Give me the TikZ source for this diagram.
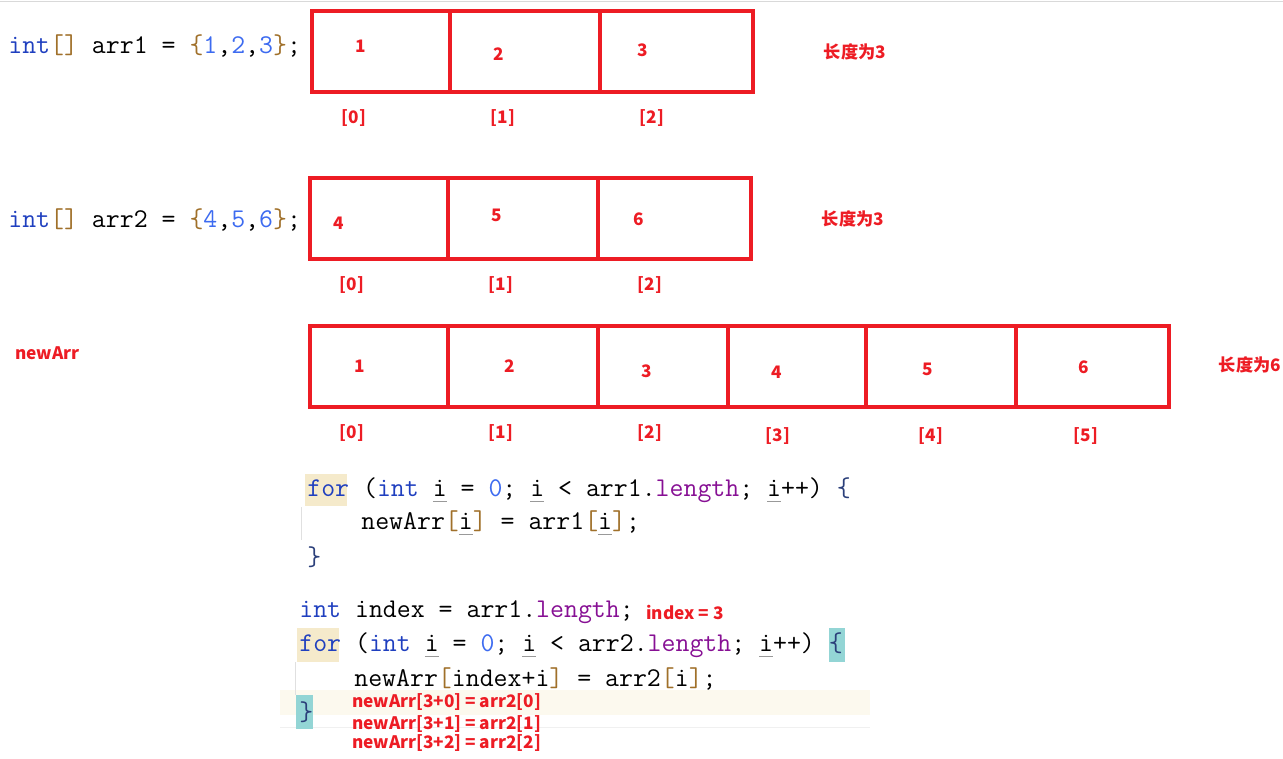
\documentclass[tikz,border=0pt]{standalone}
\usepackage{fontspec}
\newfontfamily\cjk{Noto Sans CJK SC}
\definecolor{lblred}{HTML}{ED1C24}
\definecolor{kwblue}{HTML}{1F3FBF}
\definecolor{numblue}{HTML}{3D6BF0}
\definecolor{fldpurple}{HTML}{871094}
\definecolor{brkbrown}{HTML}{A0702A}
\definecolor{bracenavy}{HTML}{2B3F7A}
\definecolor{forbg}{HTML}{F5EACB}
\definecolor{tealbg}{HTML}{93D5D5}
\definecolor{linebg}{HTML}{FCF9EE}
\newcommand\kw[1]{\textcolor{kwblue}{#1}}
\newcommand\numtxt[1]{\textcolor{numblue}{#1}}
\newcommand\fld[1]{\textcolor{fldpurple}{#1}}
\newcommand\brk[1]{\textcolor{brkbrown}{#1}}
\newcommand\brc[1]{\textcolor{bracenavy}{#1}}
\newcommand\uv[1]{\setbox0\hbox{#1}\rlap{\textcolor{black!40}{\rule[-3pt]{\wd0}{0.6pt}}}\box0{}}

\begin{document}
\begin{tikzpicture}[x=0.02cm, y=-0.02cm,
		lbl/.style={text=lblred, font=\cjk\bfseries\fontsize{9.8}{11}\selectfont, inner sep=0pt},
		code/.style={font=\ttfamily\fontsize{15.4}{17}\selectfont, anchor=west, inner sep=0pt},
		cell/.style={draw=lblred, line width=2pt}]
				\useasboundingbox (0,0) rectangle (1283,759);
				\draw[black!15] (0,1) -- (1283,1);
				% arr1
				\node[code] (decl1) at (8,46) {\kw{int}\brk{[]} arr1 = \brk{\{}\numtxt{1},\numtxt{2},\numtxt{3}\brk{\}};};
				\draw[cell] (312,11) rectangle (753,92);
				\foreach \x in {450,600}
					\draw[cell] (\x,11) -- (\x,92);
				\foreach \v/\x/\y [count=\k from 0] in {1/361/46, 2/499/54, 3/643/50}
					\node[lbl] (av\k) at (\x,\y) {\v};
				\foreach \x [count=\k from 0] in {354,503,652}
					\node[lbl] (ai\k) at (\x,118) {[\k]};
				\node[lbl] (alen) at (855,52) {长度为3};
				% arr2
				\node[code] (decl2) at (8,220) {\kw{int}\brk{[]} arr2 = \brk{\{}\numtxt{4},\numtxt{5},\numtxt{6}\brk{\}};};
				\draw[cell] (310,178) rectangle (751,259);
				\foreach \x in {448,598}
					\draw[cell] (\x,178) -- (\x,259);
				\foreach \v/\x/\y [count=\k from 0] in {4/339/223, 5/497/215, 6/639/219}
					\node[lbl] (bv\k) at (\x,\y) {\v};
				\foreach \x [count=\k from 0] in {352,501,650}
					\node[lbl] (bi\k) at (\x,285) {[\k]};
				\node[lbl] (blen) at (853,219) {长度为3};
				% newArr
				\node[lbl, anchor=west] (nname) at (15,353) {newArr};
				\draw[cell] (310,326) rectangle (1169,407);
				\foreach \x in {448,598,728,866,1016}
					\draw[cell] (\x,326) -- (\x,407);
				\foreach \v/\x/\y [count=\k from 0] in {1/360/366, 2/510/366, 3/647/371, 4/777/372, 5/928/369, 6/1084/367}
					\node[lbl] (nv\k) at (\x,\y) {\v};
				\foreach \x/\y [count=\k from 0] in {352/433, 501/433, 650/433, 778/436, 931/436, 1086/436}
					\node[lbl] (ni\k) at (\x,\y) {[\k]};
				\node[lbl] (nlen) at (1250,365) {长度为6};
				% first loop
				\fill[forbg] (305,474) rectangle (347,506);
				\draw[black!12] (301,507) -- (301,540);
				\node[code] (l1) at (307,490) {\kw{for} (\kw{int} \uv{i} = \numtxt{0}; \uv{i} < arr1.\fld{length}; \uv{i}++) \brc{\{}};
				\node[code] (l2) at (361,523) {newArr\brk{[}\uv{i}\brk{]} = arr1\brk{[}\uv{i}\brk{]};};
				\node[code] (l3) at (307,557) {\brc{\}}};
				% second loop
				\fill[linebg] (280,690) rectangle (870,715);
				\draw[black!6] (280,727) -- (870,727);
				\fill[forbg] (297,628) rectangle (339,662);
				\fill[tealbg] (829,628) rectangle (845,662);
				\fill[tealbg] (296,695) rectangle (313,729);
				\draw[black!12] (295,662) -- (295,695);
				\node[code] (m1) at (299,612) {\kw{int} index = arr1.\fld{length};};
				\node[lbl, anchor=west] (idx) at (646,612) {index = 3};
				\node[code] (m2) at (299,645) {\kw{for} (\kw{int} \uv{i} = \numtxt{0}; \uv{i} < arr2.\fld{length}; \uv{i}++) \brc{\{}};
				\node[code] (m3) at (354,679) {newArr\brk{[}index+i\brk{]} = arr2\brk{[}i\brk{]};};
				\node[code] (m4) at (299,712) {\brc{\}}};
				\foreach \y [count=\k from 0] in {702,724,743}
					\node[lbl, anchor=west] (st\k) at (352,\y) {newArr[3+\k] = arr2[\k]};
				\fill[white] (340,751) rectangle (560,759);
			\end{tikzpicture}
\end{document}
